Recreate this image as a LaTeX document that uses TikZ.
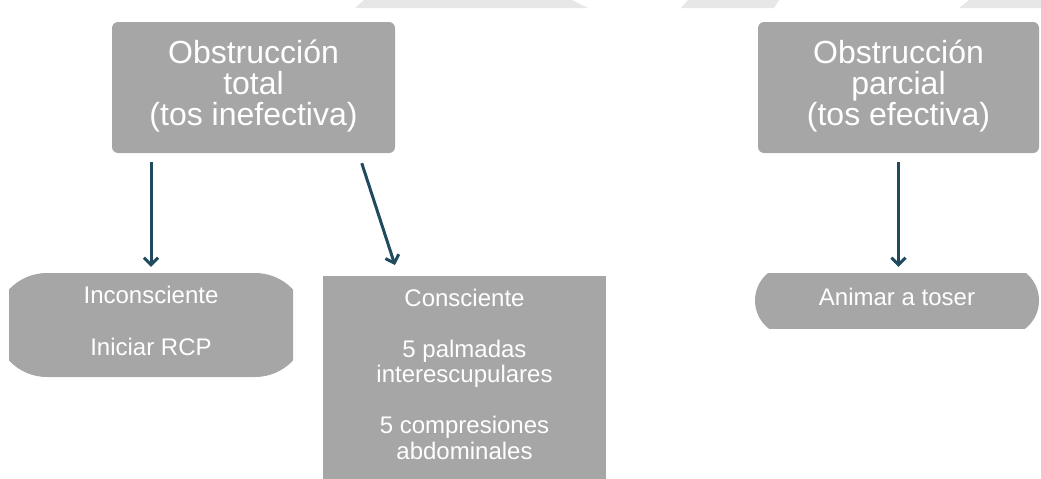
\documentclass[tikz,border=0pt]{standalone}
\usepackage{fontspec}
\setmainfont{Liberation Sans}
\usepackage{xcolor}
\usepackage{tikz}
\usetikzlibrary{arrows.meta}

\definecolor{boxgray}{HTML}{A6A6A6}
\definecolor{stripgray}{HTML}{E7E7E7}
\definecolor{arrowblue}{RGB}{32,74,94}

\begin{document}
\begin{tikzpicture}[
        x=1pt, y=-1pt,
        every node/.style={text=white, align=center, inner sep=0pt},
        titlebox/.style={fill=boxgray, rounded corners=6pt, minimum height=131pt,
            font=\fontsize{32}{31}\selectfont, text height=81pt, text depth=6pt},
        smallbox/.style={font=\fontsize{24}{26}\selectfont, minimum width=284pt,
            text height=69pt, text depth=9pt},
        flow/.style={draw=arrowblue, line width=3pt,
            -{Straight Barb[length=7pt,width=14pt]}}]

    \useasboundingbox (0,0) rectangle (1041,479);
    \clip (0,0) rectangle (1041,479);

    \fill[stripgray] (364,0) -- (572,0) -- (588,8) -- (355,8) -- cycle;
    \fill[stripgray] (688,0) -- (779,0) -- (774,8) -- (681,8) -- cycle;
    \fill[stripgray] (969,0) -- (1041,0) -- (1041,8) -- (959,8) -- cycle;

    \node[titlebox, minimum width=283pt] (total) at (253.5,87.5)
        {Obstrucción\\total\\(tos inefectiva)};
    \node[titlebox, minimum width=281pt] (parcial) at (898.5,87.5)
        {Obstrucción\\parcial\\(tos efectiva)};

    \node[smallbox, minimum height=104pt,
        path picture={\fill[boxgray, rounded corners=52pt]
            ([xshift=-14pt]path picture bounding box.south west) rectangle
            ([xshift=14pt]path picture bounding box.north east);}]
        (inconsc) at (151,325) {Inconsciente\\[26pt]Iniciar RCP};
    \node[smallbox, fill=boxgray, minimum width=283pt, anchor=north,
        inner ysep=10pt, text height=173pt, text depth=30pt,
        font=\fontsize{24}{25.5}\selectfont]
        (consc) at (464.5,276)
        {Consciente\\[25.5pt]5 palmadas\\interescupulares\\[25.5pt]5 compresiones\\abdominales};
    \node[smallbox, minimum height=55pt, text height=17pt, text depth=8pt,
        path picture={\fill[boxgray, rounded corners=35.5pt]
            ([yshift=-8pt]path picture bounding box.south west) rectangle
            ([yshift=8pt]path picture bounding box.north east);}]
        (animar) at (897,300.5) {Animar a toser};

    \draw[flow, shorten <=9pt, shorten >=6pt] (total.south -| inconsc.north) -- (inconsc.north);
    \draw[flow, shorten <=10.5pt, shorten >=11.5pt] ([xshift=105pt]total.south) -- ([xshift=-66pt]consc.north);
    \draw[flow, shorten <=9pt, shorten >=6pt] (parcial.south) -- (parcial.south |- animar.north);
\end{tikzpicture}
\end{document}
